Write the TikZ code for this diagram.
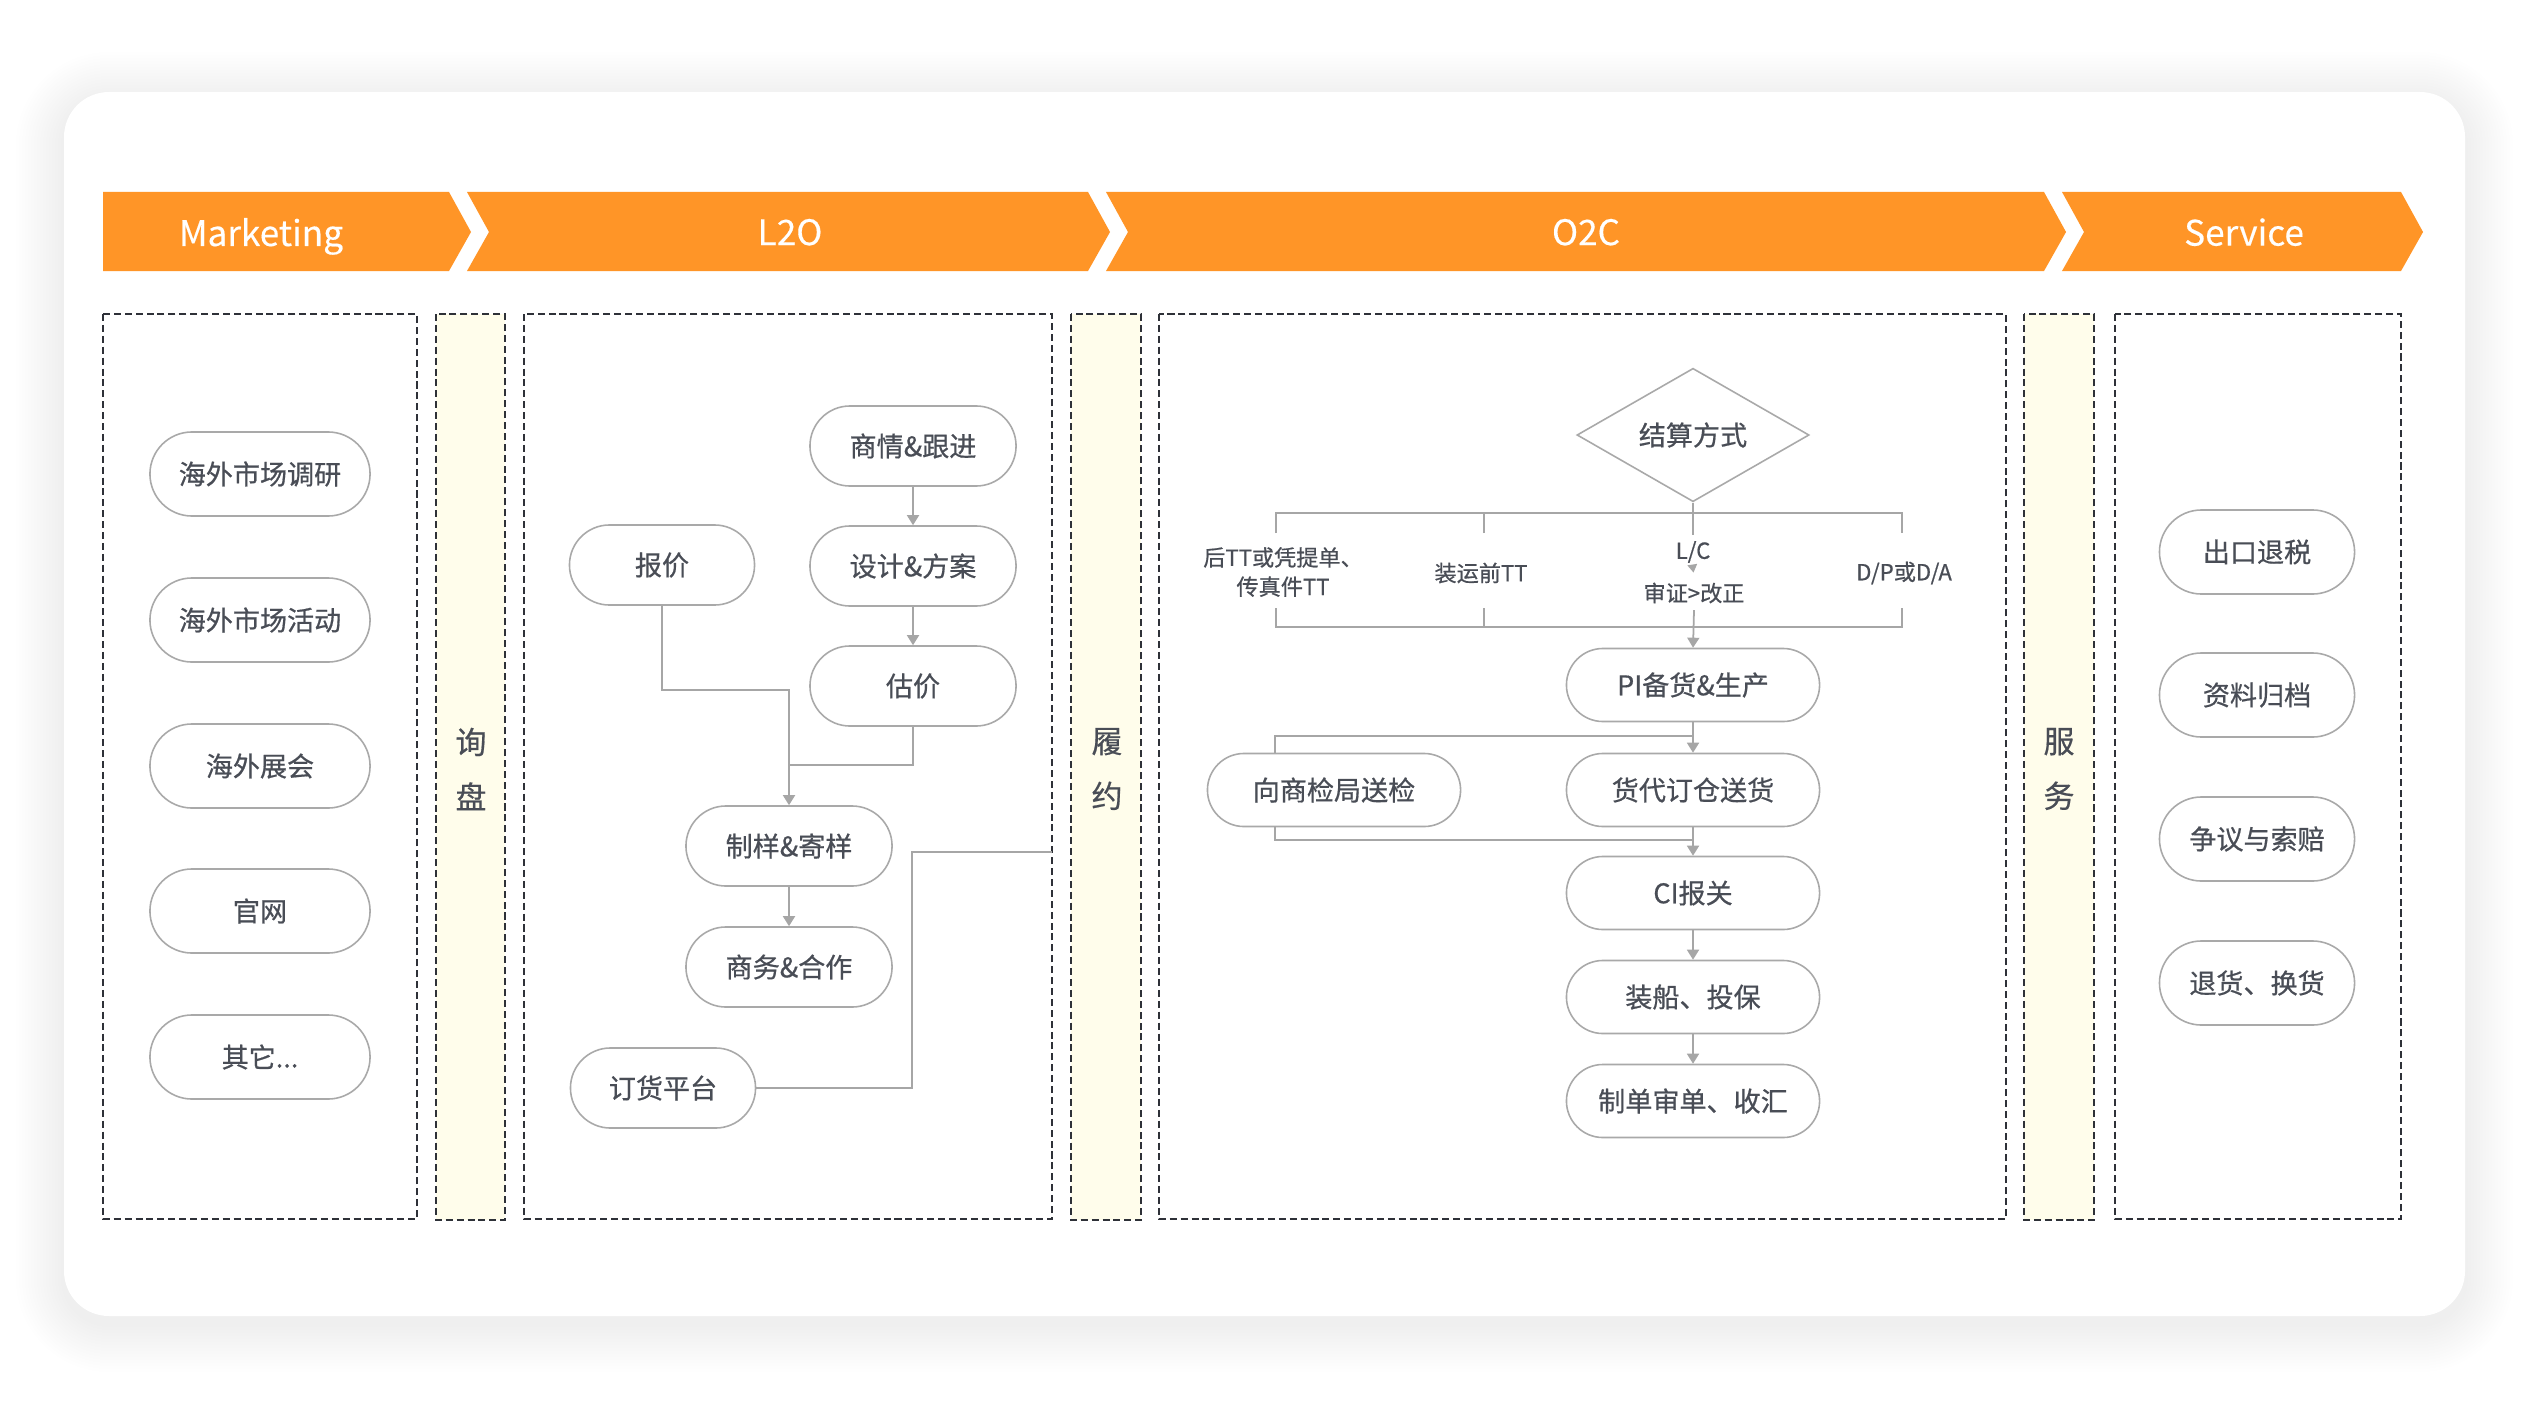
\documentclass[tikz,border=0pt]{standalone}
\usepackage{fontspec}
\setmainfont{Noto Sans CJK SC}
\newfontfamily\medf{Noto Sans CJK SC}[FakeBold=0.6]
\newfontfamily\bandf{Noto Sans CJK SC}[FakeBold=0.3]
\usetikzlibrary{arrows.meta,shapes.geometric}
\definecolor{orng}{HTML}{FF9527}
\definecolor{txt}{HTML}{494D56}
\definecolor{lnc}{HTML}{A6A6A6}
\definecolor{bdc}{HTML}{A9A9A9}
\definecolor{cream}{HTML}{FFFDEB}
\definecolor{dsh}{HTML}{2E3138}
\newcommand\fntN{\medf\fontsize{7.7pt}{9pt}\selectfont}
\newcommand\fntS{\medf\fontsize{6.3pt}{8.3pt}\selectfont}
\newcommand\fntB{\bandf\fontsize{10pt}{12pt}\selectfont}
\newcommand\fntV{\medf\fontsize{8.8pt}{15.6pt}\selectfont}
\begin{document}
\begin{tikzpicture}[x=0.01cm,y=-0.01cm,
  pill/.style={draw=bdc, line width=0.45pt, fill=white, text=txt, font=\fntN, inner sep=0pt},
  mk/.style={pill, minimum width=2.2cm, minimum height=0.84cm, rounded corners=0.42cm},
  lo/.style={pill, minimum width=2.06cm, minimum height=0.8cm, rounded corners=0.4cm},
  los/.style={pill, minimum width=1.85cm, minimum height=0.8cm, rounded corners=0.4cm},
  oc/.style={pill, minimum width=2.53cm, minimum height=0.73cm, rounded corners=0.365cm},
  sv/.style={pill, minimum width=1.95cm, minimum height=0.84cm, rounded corners=0.42cm},
  dec/.style={draw=bdc, line width=0.45pt, fill=white, text=txt, font=\fntN, diamond, minimum width=2.32cm, minimum height=1.2cm, inner sep=0pt},
  blab/.style={text=txt, font=\fntS, align=center, inner sep=0.06cm},
  band/.style={fill=orng},
  btxt/.style={text=white, font=\fntB, text depth=0pt},
  vtxt/.style={text=txt, font=\fntV, align=center},
  dbox/.style={draw=dsh, line width=0.55pt, dash pattern=on 2.0pt off 1.1pt},
  conn/.style={draw=lnc, line width=0.5pt},
  arr/.style={conn, -{Triangle[width=0.12cm,length=0.1cm]}, color=lnc}
]
\useasboundingbox (0,0) rectangle (2528,1400);
\fill[white] (0,0) rectangle (2528,1400);
% card shadow
\foreach \i [evaluate=\i as \r using 0.45+0.03*\i] in {1,...,16}{
  \fill[black, opacity=0.003, rounded corners=\r cm] (64-3*\i,100-3*\i) rectangle (2465+3*\i,1324+3*\i);
}
\fill[white, rounded corners=0.45cm] (64,92) rectangle (2465,1316);

% bands
\fill[band] (103,192) -- (449,192) -- (471,232) -- (449,271) -- (103,271) -- cycle;
\fill[band] (467,192) -- (1088,192) -- (1110,232) -- (1088,271) -- (467,271) -- (489,232) -- cycle;
\fill[band] (1106,192) -- (2044,192) -- (2066,232) -- (2044,271) -- (1106,271) -- (1128,232) -- cycle;
\fill[band] (2062,192) -- (2401,192) -- (2423,232) -- (2401,271) -- (2062,271) -- (2084,232) -- cycle;
\node[btxt] (tmk) at (261,232) {Marketing};
\node[btxt] (tlo) at (790,232) {L2O};
\node[btxt] (toc) at (1586,232) {O2C};
\node[btxt] (tsv) at (2244,232) {Service};

% dashed boxes and strips
\path[dbox] (103,314) rectangle (417,1219);
\path[dbox, fill=cream] (436,314) rectangle (505,1220);
\path[dbox] (524,314) rectangle (1052,1219);
\path[dbox, fill=cream] (1071,314) rectangle (1141,1220);
\path[dbox] (1159,314) rectangle (2006,1219);
\path[dbox, fill=cream] (2024,314) rectangle (2094,1220);
\path[dbox] (2115,314) rectangle (2401,1219);
\node[vtxt] (xp) at (471,769) {询\\盘};
\node[vtxt] (ly) at (1107,769) {履\\约};
\node[vtxt] (fw) at (2059,769) {服\\务};

% Marketing
\node[mk] (m1) at (260,474) {海外市场调研};
\node[mk] (m2) at (260,620) {海外市场活动};
\node[mk] (m3) at (260,766) {海外展会};
\node[mk] (m4) at (260,911) {官网};
\node[mk] (m5) at (260,1057) {其它...};

% L2O
\node[lo] (sq) at (913,446) {商情\&跟进};
\node[los] (bj) at (662,565) {报价};
\node[lo] (sj) at (913,566) {设计\&方案};
\node[lo] (gj) at (913,686) {估价};
\node[lo] (zy) at (789,846) {制样\&寄样};
\node[lo] (sw) at (789,967) {商务\&合作};
\node[los] (dh) at (663,1088) {订货平台};
\coordinate (j1) at (789,690);
\coordinate (j2) at (789,765);
\coordinate (j3) at (912,852);
\coordinate (j4) at (1052,852);
\draw[arr] (sq) -- (sj);
\draw[arr] (sj) -- (gj);
\draw[arr] (bj.south) |- (j1) -- (zy.north);
\draw[conn] (gj.south) |- (j2);
\draw[arr] (zy) -- (sw);
\draw[conn] (dh.east) -| (j3) -- (j4);

% O2C
\node[dec] (js) at (1693,435) {结算方式};
\node[blab] (l1) at (1283,572) {后TT或凭提单、\\传真件TT};
\node[blab] (l2) at (1481,573) {装运前TT};
\node[blab] (lc) at (1693,552) {L/C};
\node[blab] (sz) at (1694,593) {审证>改正};
\node[blab] (l4) at (1904,573) {D/P或D/A};
\coordinate (b1t) at (1276,533);
\coordinate (b2t) at (1484,533);
\coordinate (b4t) at (1902,533);
\coordinate (b1b) at (1276,608);
\coordinate (b2b) at (1484,608);
\coordinate (b4b) at (1902,608);
\draw[conn] (js.south) -- (lc.north);
\draw[conn] (b1t) -- ++(0,-20) -| (b4t);
\draw[conn] (b2t) -- ++(0,-20);
\draw[conn] (b1b) -- ++(0,19) -| (b4b);
\draw[conn] (b2b) -- ++(0,19);
\draw[conn, -{Triangle[width=0.1cm,length=0.08cm]}, shorten >=1pt, line width=0pt, draw opacity=0] (lc.south) -- (sz.north);

\node[oc] (pi) at (1693,685) {PI备货\&生产};
\node[oc] (sjj) at (1334,790) {向商检局送检};
\node[oc] (hd) at (1693,790) {货代订仓送货};
\node[oc] (ci) at (1693,893) {CI报关};
\node[oc] (zc) at (1693,997) {装船、投保};
\node[oc] (zd) at (1693,1101) {制单审单、收汇};
\draw[arr] (sz.south) -- (pi.north);
\coordinate (k1) at (1693,736);
\coordinate (k2) at (1275,753);
\coordinate (k3) at (1275,826);
\coordinate (k4) at (1693,840);
\draw[arr] (pi) -- (hd);
\draw[conn] (k1) -| (k2);
\draw[conn] (k3) |- (k4);
\draw[arr] (hd) -- (ci);
\draw[arr] (ci) -- (zc);
\draw[arr] (zc) -- (zd);

% Service
\node[sv] (s1) at (2257,552) {出口退税};
\node[sv] (s2) at (2257,695) {资料归档};
\node[sv] (s3) at (2257,839) {争议与索赔};
\node[sv] (s4) at (2257,983) {退货、换货};
\end{tikzpicture}
\end{document}
